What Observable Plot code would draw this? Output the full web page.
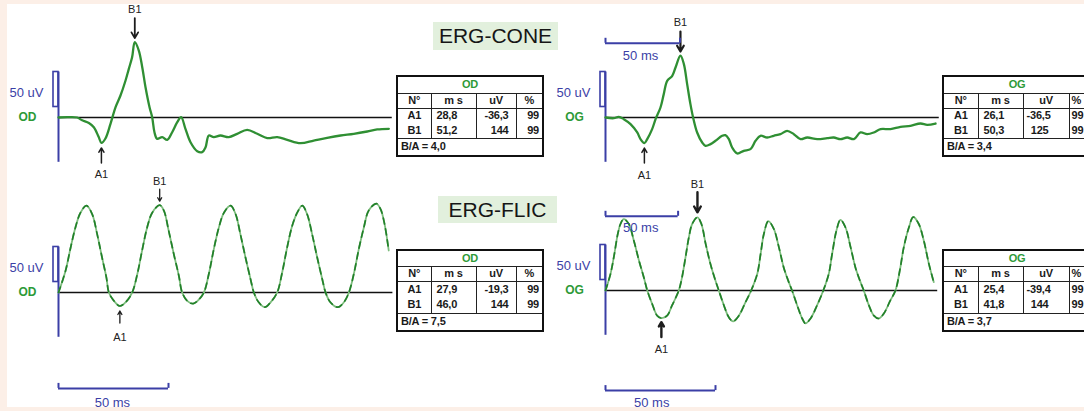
<!DOCTYPE html>
<html><head><meta charset="utf-8">
<script src="https://cdn.jsdelivr.net/npm/d3@7"></script>
<script src="https://cdn.jsdelivr.net/npm/@observablehq/plot@0.6"></script>
<style>
html,body{margin:0;padding:0;background:#fcefe7;}
#root{position:relative;width:1084px;height:411px;overflow:hidden;background:#fcefe7;font-family:"Liberation Sans",Arial,sans-serif;}
#paper{position:absolute;left:7px;top:4px;width:1077px;height:403px;background:#fff;}
#root svg{position:absolute;left:0;top:0;}
.title{position:absolute;background:#e2f0dd;color:#161616;font-size:21px;text-align:center;font-family:"Liberation Sans",Arial,sans-serif;}
table.erg{position:absolute;border-collapse:collapse;table-layout:fixed;background:#fff;font:bold 11px "Liberation Sans",Arial,sans-serif;color:#1a1a1a;border:2px solid #111;letter-spacing:-0.2px;}
table.erg td{border-left:1.5px solid #222;border-right:1.5px solid #222;padding:0 3px;white-space:nowrap;overflow:hidden;line-height:1;}
table.erg td.eye{color:#2d9a37;text-align:center;border-bottom:1.5px solid #222;}
table.erg tr.hdr td{border-bottom:1.5px solid #222;text-align:center;}
table.erg td.ratio{border-top:1.5px solid #222;text-align:left;}
table.erg td.c0{text-align:center;}
table.erg td.c1{text-align:left;padding-left:5px;}
table.erg td.c2{text-align:right;}
table.erg td.c3{text-align:right;padding-right:3px;}
table.erg.cut td.c3, table.erg.cut tr.hdr td:last-child{text-align:left;padding-left:2px;}
</style></head>
<body><div id="root"><div id="paper"></div></div>
<script>
// ---------- data (ms, uV) ----------
const coneOD = [[0,0],[6,0.5],[12.5,0],[15.9,-4],[20.4,-8],[23.7,-14],[27,-28],[28.8,-36.3],[31.5,-30],[34.9,-9],[38.3,14.8],[41.6,31.4],[45,52.9],[47.2,69.5],[49.4,86],[51.2,107.7],[53.9,95.7],[56.2,71.9],[58.4,43.3],[61.1,14.8],[62.9,0],[64.4,-21],[66.2,-30.5],[69.6,-28],[73,-31.9],[76.3,-21],[79.7,-6.7],[82.3,0.5],[85.2,-16.2],[88.6,-35.3],[93.1,-48.1],[96.4,-49.5],[98.7,-42.4],[100.9,-25.7],[104.2,-28],[108.7,-25.7],[114.3,-28],[119.9,-23.3],[126.6,-17.6],[133.4,-23.3],[140.1,-29.5],[146.8,-28],[153.5,-31.9],[162.4,-36.7],[171.3,-32.9],[180.3,-29],[189.3,-25.7],[198.2,-23.3],[207.2,-20],[213.9,-17.1],[221.7,-16.2]];
const coneOG = [[0,0],[5.6,-1],[8.9,1],[12.3,-2.4],[16.8,-9.5],[21.3,-21.4],[23.5,-30.9],[26.1,-36.5],[28,-30.9],[31.3,-16.6],[33.6,-2.4],[36.9,14.3],[39.1,33.4],[41.4,52.4],[44.8,59.6],[47,71.4],[50.3,88.5],[52.6,76.3],[54.8,47.7],[57,19.1],[58.8,0],[61.5,-21.4],[64.9,-35.7],[67.1,-40.4],[70.5,-38],[73.8,-33.3],[78.3,-26.1],[80.5,-25.2],[82.8,-30.9],[85,-42.9],[88.4,-51.4],[92.8,-47.6],[97.3,-45.2],[100.7,-33.3],[104,-26.1],[108.5,-28.6],[112.9,-26.1],[117.4,-23.8],[121.9,-19],[126.4,-23.8],[130.9,-30.9],[135.4,-28.6],[142.1,-30.9],[148.8,-29.5],[153.2,-28.6],[157.7,-30.9],[162.2,-28.6],[166.7,-30.9],[171.1,-21.4],[175.6,-23.8],[180.1,-21.4],[184.6,-16.6],[191.3,-16.6],[198,-13.3],[204.7,-11.9],[211.4,-8.6],[215.9,-10.5],[221.5,-8.6]];
const flicOD = [[0,0],[3.2,31],[5.5,64],[7.7,93],[10,114],[12.7,124],[15.3,112],[17.6,83],[19.8,50],[21.8,21],[22.9,0],[25.2,-12],[27.9,-19.3],[30.5,-14],[33.5,0],[35.8,26],[38,60],[40.3,93],[42.6,114],[46,124.7],[47.9,117],[50.1,88],[52.4,55],[54.7,24],[56.2,0],[58.5,-12],[61.2,-16],[63.8,-10],[66.1,0],[68.3,26],[70.6,62],[72.9,93],[75.2,114],[78.2,124],[80.5,112],[82.7,83],[85,50],[87.3,19],[88.8,0],[91,-14],[93.8,-21],[96.4,-14],[99.4,0],[101.7,29],[103.9,64],[106.2,95],[108.5,114],[110.8,124],[113,112],[115.3,83],[117.6,50],[119.9,19],[121.4,0],[123.6,-14],[127,-21],[129.7,-14],[132,0],[134.2,26],[136.5,62],[138.8,93],[141,117],[144.5,127],[146.4,119],[148.2,98],[150.1,60]];
const flicOG = [[0,0],[2.3,24],[3.8,48],[5.6,81],[6.8,95],[8.3,102],[10.6,95],[12.9,71],[15.2,43],[17.4,19],[19,0],[21.2,-19],[23.5,-36],[25.4,-39.4],[28,-36],[30.3,-21],[33.3,0],[34.8,19],[36.4,48],[37.9,76],[39.4,95],[41.8,104.6],[43.6,95],[45.5,67],[47.7,38],[50,14],[51.5,0],[53.8,-21],[56,-38],[58,-44],[60.6,-36],[63.6,-17],[66.2,0],[69,24],[70.5,52],[72,81],[74,99],[76.5,88],[78.8,62],[81,33],[83.3,12],[84.8,0],[87.1,-21],[89.4,-40],[90.9,-47],[93.2,-40],[96.2,-21],[99,0],[101.5,24],[103,52],[105,86],[106.8,101],[109.1,90],[111.4,62],[113.6,33],[115.9,12],[117.4,0],[119.7,-21],[122,-36],[124.2,-40],[126.5,-33],[129.5,-14],[131.8,0],[133.8,29],[135.6,62],[137.9,90],[139.9,105],[142.4,95],[144.7,71],[147,38],[149.2,12]];

// peak markers (ms, uV above baseline)
const coneODPeaks = [{label:"A1", t:28.8, v:-36.3}, {label:"B1", t:51.2, v:107.7}];
const coneOGPeaks = [{label:"A1", t:26.1, v:-36.5}, {label:"B1", t:50.3, v:88.5}];
const flicODPeaks = [{label:"A1", t:27.9, v:-19.3}, {label:"B1", t:46.0, v:124.7}];
const flicOGPeaks = [{label:"A1", t:25.4, v:-39.4}, {label:"B1", t:41.8, v:104.6}];

// tables
const tableHeader = ["N°", "m s", "uV", "%"];
const coneODRows = [["A1","28,8","-36,3","99"],["B1","51,2","144","99"]];
const coneOGRows = [["A1","26,1","-36,5","99"],["B1","50,3","125","99"]];
const flicODRows = [["A1","27,9","-19,3","99"],["B1","46,0","144","99"]];
const flicOGRows = [["A1","25,4","-39,4","99"],["B1","41,8","144","99"]];
const ratios = ["B/A = 4,0", "B/A = 3,4", "B/A = 7,5", "B/A = 3,7"];
const titles = ["ERG-CONE", "ERG-FLIC"];

// ---------- drawing ----------
const W = 1084, H = 411;
const BLUE = "#3b3fa6", GREEN = "#2d9a37", DARK = "#1d1d1d";
const root = document.getElementById("root");

function panel(cfg) {
  const {trace, x0, y0, pxMs, pxUv, eye, peaks, baseEnd, bars, flick, arrows} = cfg;
  const px2v = p => p / pxUv, px2t = p => p / pxMs;
  const arrowData = peaks.map((d, i) => {
    const a = arrows[i];
    const s = d.label === "B1" ? 1 : -1;
    const tip = d.v + s * px2v(a.gap);
    const tail = tip + s * px2v(a.len);
    return {...d, tip, tail, ty: tail + s * px2v(a.text), w: a.w, head: a.head};
  });
  const tickData = bars.flatMap(b => [{t:b.t1, v:b.v}, {t:b.t2, v:b.v}]);
  const marks = [
    Plot.ruleY([0], {x1: 0, x2: baseEnd, stroke: "#111", strokeWidth: 1.7}),
    Plot.ruleX([0], {y1: -64, y2: 65, stroke: BLUE, strokeWidth: 2}),
    Plot.rect([0], {x1: px2t(-5), x2: 0, y1: 15, y2: 65, fill: "none", stroke: BLUE, strokeWidth: 1.6}),
  ];
  if (flick) {
    marks.push(Plot.line(trace, {x: d => d[0], y: d => d[1], curve: "catmull-rom", stroke: "#7dbd7d", strokeWidth: 1.8}));
    marks.push(Plot.line(trace, {x: d => d[0], y: d => d[1], curve: "catmull-rom", stroke: "#22802a", strokeWidth: 1.7, strokeDasharray: "6,5"}));
  } else {
    marks.push(Plot.line(trace, {x: d => d[0], y: d => d[1], curve: "catmull-rom", stroke: "#2f8f33", strokeWidth: 2.3}));
  }
  for (const a of arrowData) {
    marks.push(Plot.arrow([a], {x1: "t", x2: "t", y1: "tail", y2: "tip", stroke: DARK, strokeWidth: a.w, headLength: a.head}));
  }
  marks.push(
    Plot.text(arrowData, {x: "t", y: "ty", text: "label", fill: "#222", fontSize: 11, fontFamily: "Liberation Sans, Arial, sans-serif"}),
    Plot.text(["50 uV"], {x: px2t(-15), y: 35, text: d => d, textAnchor: "end", fill: BLUE, fontSize: 13, fontFamily: "Liberation Sans, Arial, sans-serif"}),
    Plot.text([eye], {x: px2t(-31), y: 0, text: d => d, fill: GREEN, fontSize: 12, fontWeight: "bold", fontFamily: "Liberation Sans, Arial, sans-serif"}),
    Plot.ruleY(bars, {x1: "t1", x2: "t2", y: "v", stroke: BLUE, strokeWidth: 2}),
    Plot.ruleX(tickData, {x: "t", y1: "v", y2: d => d.v + px2v(5), stroke: BLUE, strokeWidth: 2}),
    Plot.text(bars, {x: "lt", y: "lv", text: () => "50 ms", fill: BLUE, fontSize: 13, fontFamily: "Liberation Sans, Arial, sans-serif"})
  );
  const svg = Plot.plot({
    width: W, height: H, margin: 0,
    x: {type: "linear", domain: [0, 100], range: [x0, x0 + 100 * pxMs], axis: null},
    y: {type: "linear", domain: [0, 100], range: [y0, y0 - 100 * pxUv], axis: null},
    style: {background: "transparent", overflow: "visible"},
    marks
  });
  root.appendChild(svg);
}

panel({trace: coneOD, x0: 58, y0: 117, pxMs: 1.49, pxUv: 0.7, eye: "OD", peaks: coneODPeaks, baseEnd: 224, flick: false,
  arrows: [{gap: 5, len: 15, text: 12, w: 1.5, head: 7}, {gap: 4, len: 20, text: 9, w: 1.8, head: 8}], bars: []});
panel({trace: coneOG, x0: 605, y0: 117, pxMs: 1.49, pxUv: 0.7, eye: "OG", peaks: coneOGPeaks, baseEnd: 224, flick: false,
  arrows: [{gap: 5, len: 15, text: 12, w: 1.5, head: 7}, {gap: 4, len: 20, text: 9, w: 2.2, head: 9}],
  bars: [{t1: 0, t2: 50, v: 106, lt: 23.5, lv: 88}]});
panel({trace: flicOD, x0: 58, y0: 292, pxMs: 2.2, pxUv: 0.7, eye: "OD", peaks: flicODPeaks, baseEnd: 152, flick: true,
  arrows: [{gap: 5, len: 12, text: 14, w: 1.3, head: 6}, {gap: 4, len: 12, text: 8, w: 1.3, head: 6}],
  bars: [{t1: 0, t2: 50, v: -137, lt: 24.5, lv: -157}]});
panel({trace: flicOG, x0: 605, y0: 290, pxMs: 2.2, pxUv: 0.7, eye: "OG", peaks: flicOGPeaks, baseEnd: 151, flick: true,
  arrows: [{gap: 4, len: 15, text: 12, w: 2.4, head: 8}, {gap: 5, len: 20, text: 8, w: 2.4, head: 8}],
  bars: [{t1: 0, t2: 50, v: -143, lt: 21, lv: -160}, {t1: 0, t2: 33, v: 106, lt: 16, lv: 90}]});

// titles
function title(text, left, top, w, h) {
  const d = document.createElement("div");
  d.className = "title";
  Object.assign(d.style, {left: left + "px", top: top + "px", width: w + "px", height: h + "px", lineHeight: h + "px"});
  d.textContent = text;
  root.appendChild(d);
}
title(titles[0], 433, 22, 125, 28);
title(titles[1], 438, 196, 119, 27);

// tables
function table(eye, rows, ratio, left, top, cols, heights, uvPad, cut) {
  const t = document.createElement("table");
  t.className = "erg" + (cut ? " cut" : "");
  const total = cols.reduce((a, b) => a + b, 0);
  Object.assign(t.style, {left: left + "px", top: top + "px", width: total + "px"});
  const cg = document.createElement("colgroup");
  cols.forEach(w => { const c = document.createElement("col"); c.style.width = w + "px"; cg.appendChild(c); });
  t.appendChild(cg);
  const addRow = (cls, h) => { const r = t.insertRow(); if (cls) r.className = cls; r.style.height = h + "px"; return r; };
  let r = addRow("", heights[0]);
  let c = r.insertCell(); c.colSpan = 4; c.className = "eye"; c.textContent = eye;
  r = addRow("hdr", heights[1]);
  tableHeader.forEach(h => { const cc = r.insertCell(); cc.textContent = h; });
  rows.forEach(row => {
    const rr = addRow("", heights[2]);
    row.forEach((v, i) => { const cc = rr.insertCell(); cc.className = "c" + i; cc.textContent = v; if (i === 2) cc.style.paddingRight = uvPad + "px"; });
  });
  r = addRow("", heights[3]);
  c = r.insertCell(); c.colSpan = 4; c.className = "ratio"; c.textContent = ratio;
  root.appendChild(t);
}
table("OD", coneODRows, ratios[0], 396, 75, [34, 45, 40, 27], [17, 15, 15, 18], 7, false);
table("OG", coneOGRows, ratios[1], 942, 75, [35, 45, 46, 22], [17, 15, 15, 18], 20, true);
table("OD", flicODRows, ratios[2], 396, 249, [34, 45, 40, 27], [16, 15, 16, 18], 7, false);
table("OG", flicOGRows, ratios[3], 942, 249, [35, 45, 46, 22], [16, 15, 16, 18], 20, true);
</script>
</body></html>
